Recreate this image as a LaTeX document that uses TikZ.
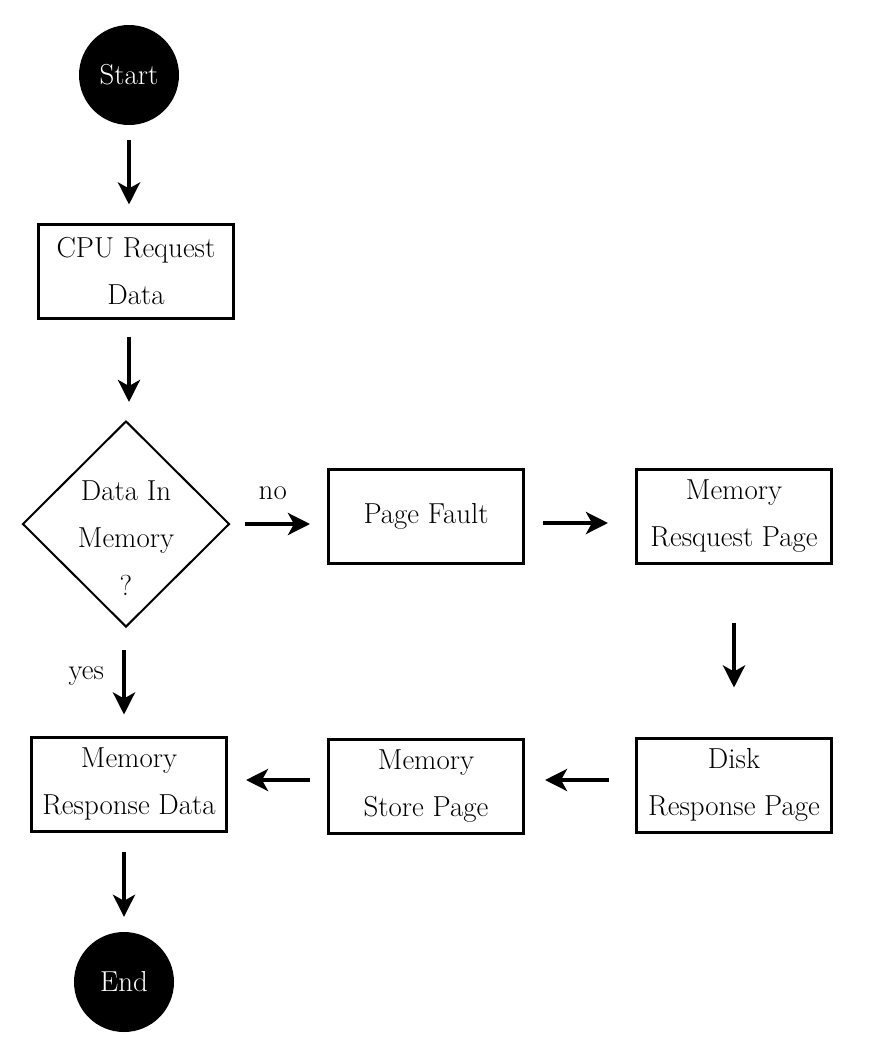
\documentclass[tikz,border=0pt]{standalone}
\usepackage{tikz}
\usetikzlibrary{arrows.meta,shapes.geometric}

\begin{document}
\begin{tikzpicture}[x=1bp,y=-1bp,>={Stealth[length=22bp,width=22bp,inset=6bp]},
  every node/.style={font=\fontsize{29}{48}\selectfont,align=center},
  terminal/.style={circle,fill=black,text=white,minimum size=100bp,inner sep=0pt},
  procbox/.style={draw,rectangle,line width=3bp,minimum width=195bp,minimum height=94bp,inner sep=2pt},
  decision/.style={draw,diamond,line width=2bp,minimum width=207bp,minimum height=206bp,inner sep=0pt},
  flow/.style={->,line width=4bp}]
\useasboundingbox (0,0) rectangle (873,1058);
\node[terminal] (start) at (129,75) {Start};
\node[procbox] (cpu) at (136,271) {CPU Request\\Data};
\node[decision] (dec) at (126,524) {};
\node (decq) at (126,538) {Data In\\Memory\\?};
\node[procbox] (fault) at (426,516) {Page Fault};
\node[procbox] (mreq) at (734,516) {Memory\\Resquest Page};
\node[procbox] (disk) at (734,785) {Disk\\Response Page};
\node[procbox] (store) at (426,786) {Memory\\Store Page};
\node[procbox] (resp) at (129,784) {Memory\\Response Data};
\node[terminal] (end) at (124,982) {End};
\draw[flow,shorten <=15bp,shorten >=18bp] (start.south) -- (start.south |- cpu.north);
\draw[flow,shorten <=17bp,shorten >=18bp] (cpu.south -| start) -- (start |- dec.north);
\draw[flow,shorten <=14bp,shorten >=17bp] (dec.east) -- node[above=22bp,inner sep=0pt,xshift=-6bp]{no} (dec.east -| fault.west);
\draw[flow,shorten <=18bp,shorten >=27bp] (fault.east |- 0,523) -- (mreq.west |- 0,523);
\draw[flow,shorten <=58bp,shorten >=49bp] (mreq.south) -- (disk.north);
\draw[flow,shorten <=26bp,shorten >=20bp] (disk.west |- 0,780) -- (store.east |- 0,780);
\draw[flow,shorten <=17bp,shorten >=18bp] (store.west |- 0,780) -- (resp.east |- 0,780);
\draw[flow,shorten <=22bp,shorten >=21bp] (end |- dec.south) -- node[left=18bp,inner sep=0pt,yshift=6bp]{yes} (end |- resp.north);
\draw[flow,shorten <=19bp,shorten >=15bp] (end |- resp.south) -- (end.north);
\end{tikzpicture}
\end{document}
